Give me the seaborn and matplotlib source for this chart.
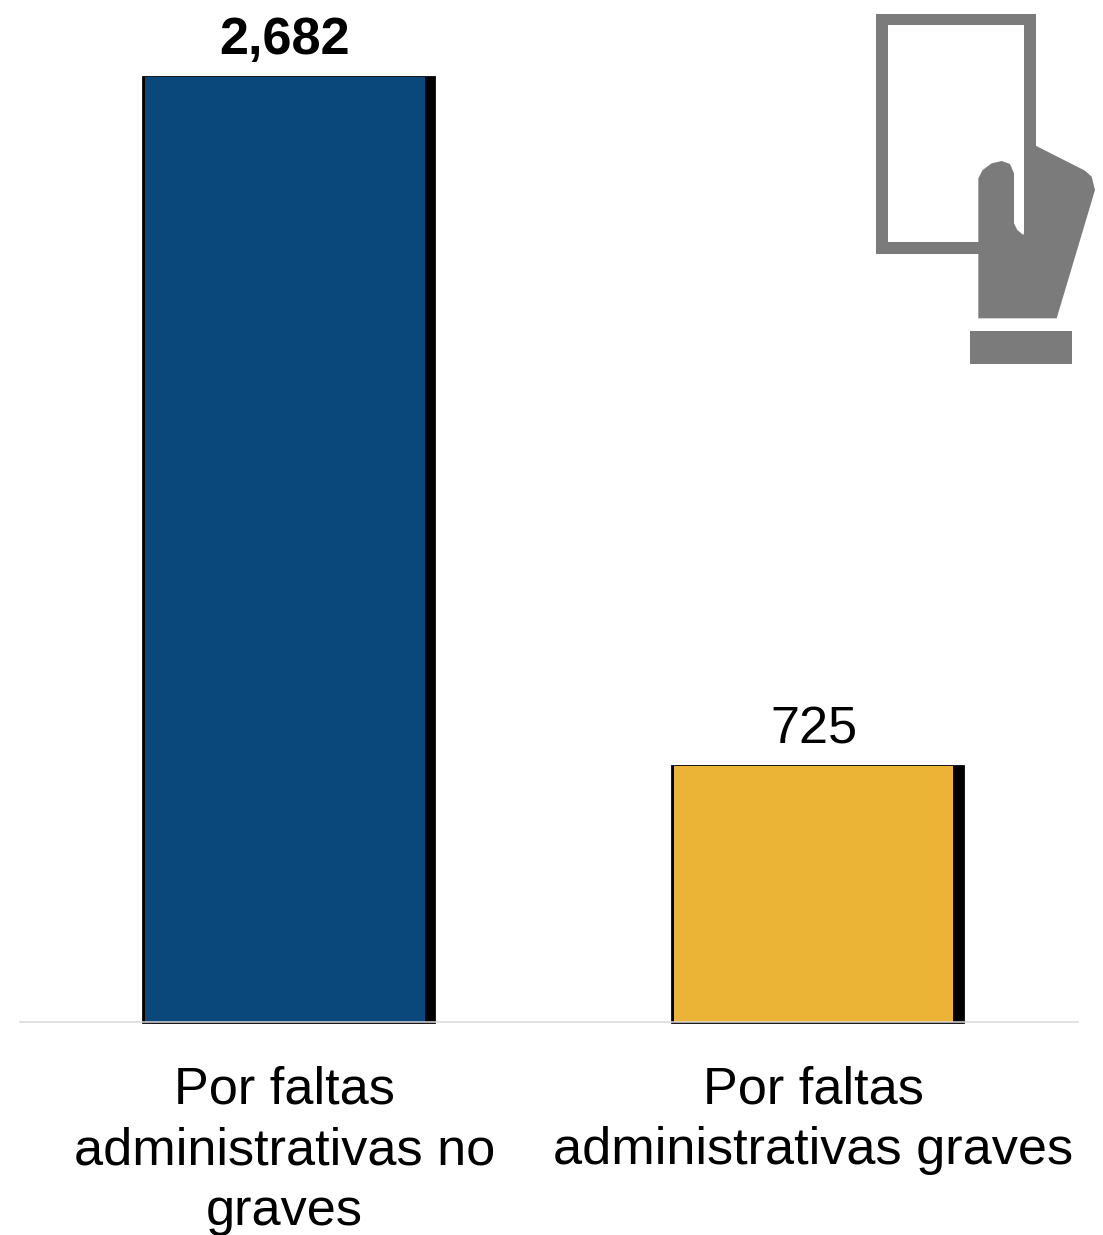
import matplotlib
matplotlib.use("Agg")
import matplotlib.pyplot as plt
import pandas as pd
import seaborn as sns
from matplotlib.patches import PathPatch, Polygon, Rectangle
from matplotlib.path import Path

categories = ["Por faltas\nadministrativas no\ngraves", "Por faltas\nadministrativas graves"]
values = [2682, 725]
value_labels = ["2,682", "725"]
bar_colors = ["#0a487c", "#ecb437"]
shadow_color = "#000000"
icon_color = "#7b7b7b"

W, H = 1103, 1235
sns.set_theme(style="white")
plt.rcParams["font.family"] = ["Liberation Sans", "DejaVu Sans"]

df = pd.DataFrame({"categoria": categories, "valor": values})

fig = plt.figure(figsize=(W / 100, H / 100), dpi=100, facecolor="white")
base_y = 1022
ax = fig.add_axes([20 / W, (H - base_y) / H, 1058 / W, base_y / H])
slot = 529

# black offset shadow behind each bar
sns.barplot(data=df, x="categoria", y="valor", color=shadow_color, saturation=1,
            width=291 / slot, ax=ax, edgecolor=shadow_color, linewidth=2)
for p in ax.patches:
    p.set_x(p.get_x() + 4 / slot)
    p.set_clip_on(False)

sns.barplot(data=df, x="categoria", y="valor", hue="categoria", palette=bar_colors,
            saturation=1, width=280 / slot, ax=ax, legend=False, linewidth=0, dodge=False)

ax.set_xlim(-0.5, 1.5)
ax.set_ylim(0, base_y / ((base_y - 76.5) / values[0]))
ax.set_xlabel("")
ax.set_ylabel("")
ax.set_yticks([])
ax.set_xticks(range(len(categories)))
ax.set_xticklabels(categories, fontsize=37.6, color="black", linespacing=1.32)
ax.tick_params(axis="x", length=0, pad=31)
for s in ["top", "left", "right"]:
    ax.spines[s].set_visible(False)
ax.spines["bottom"].set_color("#d9d9d9")
ax.spines["bottom"].set_linewidth(1.1)
ax.patch.set_alpha(0)

for i, (v, lab) in enumerate(zip(values, value_labels)):
    ax.annotate(lab, (i, v), xytext=(0, 8.4), textcoords="offset points", ha="center", va="bottom",
                fontsize=37.6, color="black", fontweight="bold" if i == 0 else "normal",
                annotation_clip=False)


# icon: decoration placed in figure pixels (y measured from the top)
def px(points):
    return [(x / W, 1 - y / H) for x, y in points]


def zm(points):
    return [(860 + x / 3, y / 3) for x, y in points]


outer = px([(876, 14), (1036, 14), (1036, 254), (876, 254), (876, 14)])
inner = px([(888, 25), (888, 242), (1024, 242), (1024, 25), (888, 25)])
codes = [Path.MOVETO, Path.LINETO, Path.LINETO, Path.LINETO, Path.CLOSEPOLY] * 2
fig.add_artist(PathPatch(Path(outer + inner, codes), facecolor=icon_color, edgecolor="none",
                         transform=fig.transFigure))
hand = zm([(527, 437), (675, 512), (695, 530), (705, 570), (590, 955), (355, 955), (355, 535),
           (368, 510), (395, 490), (425, 483), (450, 492), (462, 520), (462, 670), (472, 690),
           (490, 705), (493, 695), (493, 720), (527, 720)])
fig.add_artist(Polygon(px(hand), closed=True, facecolor=icon_color, edgecolor="none",
                       transform=fig.transFigure))
fig.add_artist(Rectangle((970 / W, 1 - 364 / H), 102 / W, 33 / H, facecolor=icon_color,
                         edgecolor="none", transform=fig.transFigure))

fig.savefig("out.png", dpi=100, facecolor="white")
